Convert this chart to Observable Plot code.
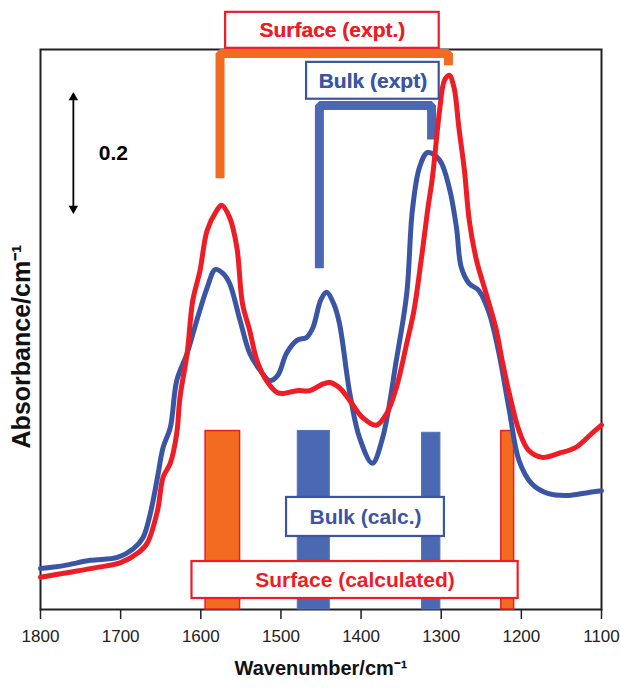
<!DOCTYPE html>
<html>
<head>
<meta charset="utf-8">
<script src="https://cdn.jsdelivr.net/npm/d3@7"></script>
<script src="https://cdn.jsdelivr.net/npm/@observablehq/plot@0.6"></script>
<style>
  html, body { margin: 0; padding: 0; background: #fff; }
  #chart { width: 620px; height: 688px; }
</style>
</head>
<body>
<div id="chart"></div>
<script>
// ---- Data (wavenumber in cm^-1, absorbance in arbitrary units) ----
const wavenumberTicks = [1800, 1700, 1600, 1500, 1400, 1300, 1200, 1100];

// Bulk (expt.) spectrum – blue
const bulkWn  = [1800, 1771, 1738, 1704, 1684, 1672, 1663, 1654, 1647, 1638, 1630, 1617, 1605, 1592, 1582, 1572, 1564, 1551, 1539, 1526, 1514, 1504, 1493, 1480, 1468, 1460, 1450, 1443, 1434, 1427, 1414, 1402, 1386, 1373, 1356, 1343, 1336, 1327, 1317, 1302, 1290, 1281, 1275, 1265, 1253, 1240, 1228, 1215, 1203, 1187, 1166, 1141, 1116, 1100];
const bulkAbs = [0.070, 0.075, 0.084, 0.089, 0.104, 0.123, 0.164, 0.226, 0.277, 0.311, 0.391, 0.438, 0.494, 0.550, 0.581, 0.574, 0.557, 0.494, 0.438, 0.409, 0.391, 0.400, 0.438, 0.460, 0.465, 0.482, 0.530, 0.542, 0.522, 0.489, 0.369, 0.294, 0.250, 0.294, 0.426, 0.540, 0.682, 0.756, 0.781, 0.768, 0.721, 0.653, 0.585, 0.557, 0.545, 0.506, 0.438, 0.340, 0.255, 0.215, 0.198, 0.195, 0.200, 0.203];

// Surface (expt.) spectrum – red
const surfWn  = [1800, 1771, 1729, 1700, 1679, 1667, 1654, 1647, 1638, 1630, 1626, 1617, 1610, 1601, 1592, 1580, 1574, 1564, 1555, 1548, 1539, 1530, 1518, 1505, 1498, 1480, 1464, 1448, 1439, 1427, 1414, 1398, 1381, 1368, 1356, 1343, 1334, 1325, 1317, 1311, 1302, 1296, 1290, 1284, 1278, 1271, 1265, 1256, 1244, 1232, 1224, 1215, 1203, 1191, 1174, 1153, 1132, 1112, 1100];
const surfAbs = [0.055, 0.062, 0.072, 0.080, 0.096, 0.113, 0.169, 0.226, 0.250, 0.301, 0.362, 0.438, 0.528, 0.579, 0.648, 0.682, 0.691, 0.670, 0.619, 0.523, 0.477, 0.426, 0.391, 0.371, 0.369, 0.374, 0.374, 0.385, 0.388, 0.379, 0.357, 0.328, 0.315, 0.335, 0.379, 0.455, 0.511, 0.597, 0.682, 0.738, 0.853, 0.904, 0.913, 0.892, 0.824, 0.750, 0.665, 0.597, 0.540, 0.482, 0.426, 0.369, 0.306, 0.272, 0.260, 0.267, 0.277, 0.301, 0.315];

// Calculated bands (stick spectrum drawn as bars)
const calcKind   = ["Surface", "Bulk", "Bulk", "Surface"];
const calcStart  = [1594, 1479, 1324, 1225];
const calcEnd    = [1551, 1439, 1301, 1209];
const calcHeight = [0.305, 0.305, 0.302, 0.305];

// Experimental peak brackets: [left peak, right peak], top level, drop levels
const surfExptPeaks = [1576, 1291];
const surfExptTop   = 0.950;
const surfExptDrop  = [0.737, 0.930];
const bulkExptPeaks = [1452, 1312];
const bulkExptTop   = 0.8615;
const bulkExptDrop  = [0.583, 0.803];

// Label boxes (data units)
const boxText = ["Surface (expt.)", "Bulk (expt)", "Bulk (calc.)", "Surface (calculated)"];
const boxKind = ["Surface", "Bulk", "Bulk", "Surface"];
const boxX1 = [1569, 1468, 1493, 1611];
const boxX2 = [1302.5, 1302.5, 1296, 1204];
const boxY1 = [0.959, 0.872, 0.1248, 0.0188];
const boxY2 = [1.0205, 0.935, 0.1915, 0.082];

// Scale bar (0.2 absorbance units)
const scaleBarWn = 1759;
const scaleBarFrom = 0.68;
const scaleBarTo = 0.88;
const scaleBarLabel = "0.2";
const scaleBarLabelWn = 1709;

// ---- Build tables ----
const bulk = bulkWn.map((w, i) => ({wn: w, a: bulkAbs[i]}));
const surf = surfWn.map((w, i) => ({wn: w, a: surfAbs[i]}));
const calc = calcKind.map((k, i) => ({kind: k, start: calcStart[i], end: calcEnd[i], h: calcHeight[i]}));
const boxes = boxText.map((t, i) => ({text: t, kind: boxKind[i], x1: boxX1[i], x2: boxX2[i], y1: boxY1[i], y2: boxY2[i]}));
const exptBoxes = boxes.filter(d => d.text.includes("expt"));
const bracket = (p, top, drop) => [
  {wn: p[0], a: drop[0]}, {wn: p[0], a: top}, {wn: p[1], a: top}, {wn: p[1], a: drop[1]}
];
const surfBracket = bracket(surfExptPeaks, surfExptTop, surfExptDrop);
const bulkBracket = bracket(bulkExptPeaks, bulkExptTop, bulkExptDrop);
const scaleBar = [{wn: scaleBarWn, a1: scaleBarFrom, a2: scaleBarTo}];

const RED = "#EE1C25", BLUE = "#3B55A5", BLUEBAR = "#4A69B2", ORANGE = "#F26B21";
const FONT = "'Liberation Sans', Arial, Helvetica, sans-serif";
const labelColor = d => d.kind === "Surface" ? RED : BLUE;

const chart = Plot.plot({
  width: 620,
  height: 688,
  marginLeft: 40,
  marginRight: 19,
  marginTop: 49,
  marginBottom: 79,
  x: {domain: [1800, 1100]},
  y: {domain: [0, 0.957], axis: null},
  style: {fontFamily: FONT, background: "#fff", color: "#222", overflow: "visible"},
  marks: [
    Plot.axisX({ticks: wavenumberTicks, tickFormat: "d", tickSize: 10, tickPadding: 10, fontSize: 17, label: null, strokeWidth: 1.5}),
    Plot.frame({stroke: "#231F20", strokeWidth: 2}),
    // experimental brackets
    Plot.line(surfBracket, {x: "wn", y: "a", stroke: ORANGE, strokeWidth: 9, strokeLinejoin: "miter", strokeLinecap: "butt"}),
    Plot.line(bulkBracket, {x: "wn", y: "a", stroke: BLUEBAR, strokeWidth: 9, strokeLinejoin: "miter", strokeLinecap: "butt"}),
    // calculated bands
    Plot.rect(calc.filter(d => d.kind === "Surface"), {x1: "start", x2: "end", y1: 0, y2: "h", fill: ORANGE, stroke: RED, strokeWidth: 1.5}),
    Plot.rect(calc.filter(d => d.kind === "Bulk"), {x1: "start", x2: "end", y1: 0, y2: "h", fill: BLUEBAR, stroke: "#5472B8", strokeWidth: 1}),
    // spectra
    Plot.line(bulk, {x: "wn", y: "a", stroke: BLUE, strokeWidth: 5, curve: "catmull-rom"}),
    Plot.line(surf, {x: "wn", y: "a", stroke: RED, strokeWidth: 5, curve: "catmull-rom"}),
    // label boxes
    Plot.rect(boxes, {x1: "x1", x2: "x2", y1: "y1", y2: "y2", fill: "#fff", stroke: labelColor, strokeWidth: 2.2}),
    // slightly offset duplicate of the experimental labels (ghosted print in the original)
    Plot.text(exptBoxes, {x: d => (d.x1 + d.x2) / 2, y: d => (d.y1 + d.y2) / 2, text: "text",
      fill: labelColor, fontSize: 21, fontWeight: "bold", letterSpacing: 0.6, fillOpacity: 0.85}),
    Plot.text(boxes, {x: d => (d.x1 + d.x2) / 2, y: d => (d.y1 + d.y2) / 2, text: "text",
      fill: labelColor, fontSize: 21, fontWeight: "bold"}),
    // scale bar
    Plot.link(scaleBar, {x1: "wn", x2: "wn", y1: "a1", y2: "a2", stroke: "#000", strokeWidth: 1.8}),
    Plot.dot(scaleBar, {x: "wn", y: "a2", symbol: "triangle", r: 3.5, fill: "#000", stroke: null, dy: 3}),
    Plot.dot(scaleBar, {x: "wn", y: "a1", symbol: "triangle", r: 3.5, fill: "#000", stroke: null, dy: -3, rotate: 180}),
    Plot.text(scaleBar, {x: scaleBarLabelWn, y: d => (d.a1 + d.a2) / 2, text: () => scaleBarLabel, fontSize: 21, fontWeight: "bold", fill: "#000"}),
    // axis titles
    Plot.text(["Wavenumber/cm⁻¹"], {frameAnchor: "bottom", text: d => d, dy: 59, lineAnchor: "middle", textAnchor: "middle", fontSize: 20, fontWeight: "bold", fill: "#111"}),
    Plot.text(["Absorbance/cm⁻¹"], {frameAnchor: "left", text: d => d, dx: -19, dy: 17, rotate: -90, lineAnchor: "middle", textAnchor: "middle", fontSize: 25, fontWeight: "bold", fill: "#111", letterSpacing: 1.4})
  ]
});
document.getElementById("chart").appendChild(chart);
</script>
</body>
</html>
